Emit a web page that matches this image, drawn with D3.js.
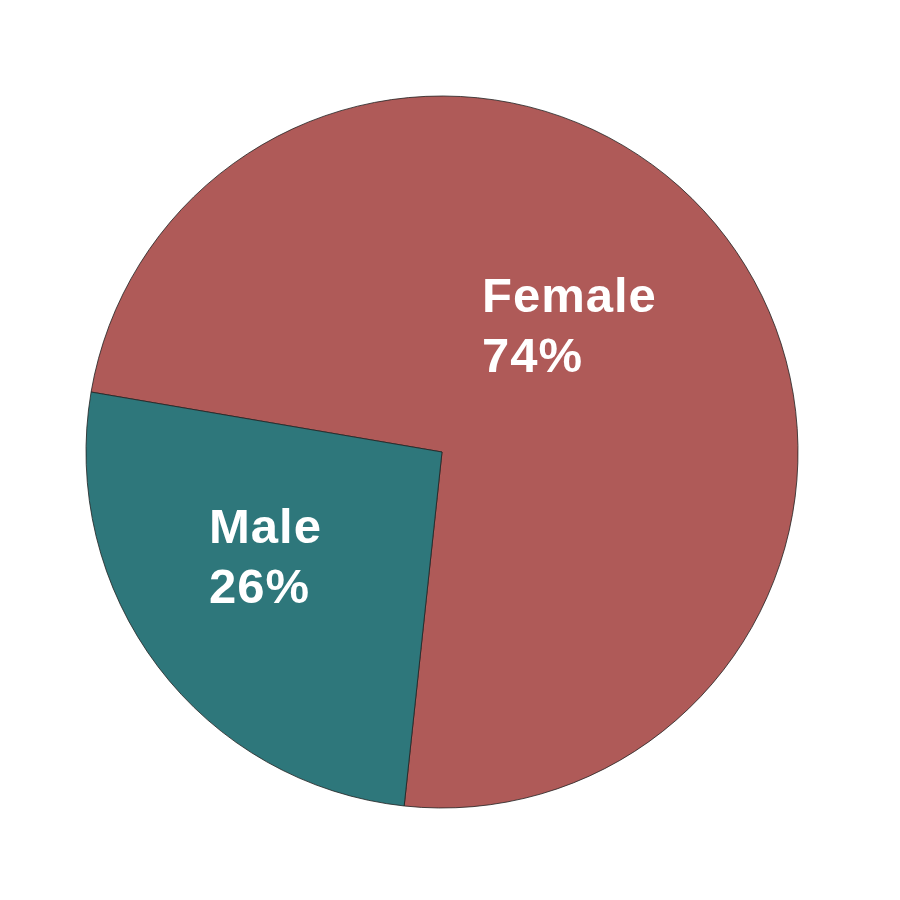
<!DOCTYPE html>
<html>
<head>
<meta charset="utf-8">
<script src="https://cdn.jsdelivr.net/npm/d3@7"></script>
<style>
html,body{margin:0;padding:0;background:#fff;}
svg{display:block;}
</style>
</head>
<body>
<svg id="chart" width="900" height="900"></svg>
<script>
const categories = ["Female", "Male"];
const values = [74, 26];
const labels = ["74%", "26%"];
const colors = ["#AF5A58", "#2E777B"];

const svg = d3.select("#chart");
const cx = 442, cy = 452, r = 356;
const g = svg.append("g").attr("transform", `translate(${cx},${cy})`);

const startDeg = -80.3;
const pie = d3.pie().sort(null).value(d => d)
  .startAngle(startDeg * Math.PI / 180)
  .endAngle((startDeg + 360) * Math.PI / 180);
const arcs = pie(values);
const arc = d3.arc().innerRadius(0).outerRadius(r);

g.selectAll("path").data(arcs).enter().append("path")
  .attr("d", arc)
  .attr("fill", (d, i) => colors[i])
  .attr("stroke", "#222")
  .attr("stroke-width", 0.8)
  .attr("stroke-linejoin", "miter");

// label anchor positions (left edge of text), relative to centre
const labelPos = [[40, -140], [-233, 91]];
arcs.forEach((d, i) => {
  const t = g.append("text")
    .attr("x", labelPos[i][0])
    .attr("y", labelPos[i][1])
    .attr("fill", "#fff")
    .attr("font-family", "'Liberation Sans', Arial, Helvetica, sans-serif")
    .attr("font-weight", "bold")
    .attr("font-size", 49)
    .attr("letter-spacing", 1);
  t.append("tspan").attr("x", labelPos[i][0]).text(categories[i]);
  t.append("tspan").attr("x", labelPos[i][0]).attr("dy", 60).text(labels[i]);
});
</script>
</body>
</html>
